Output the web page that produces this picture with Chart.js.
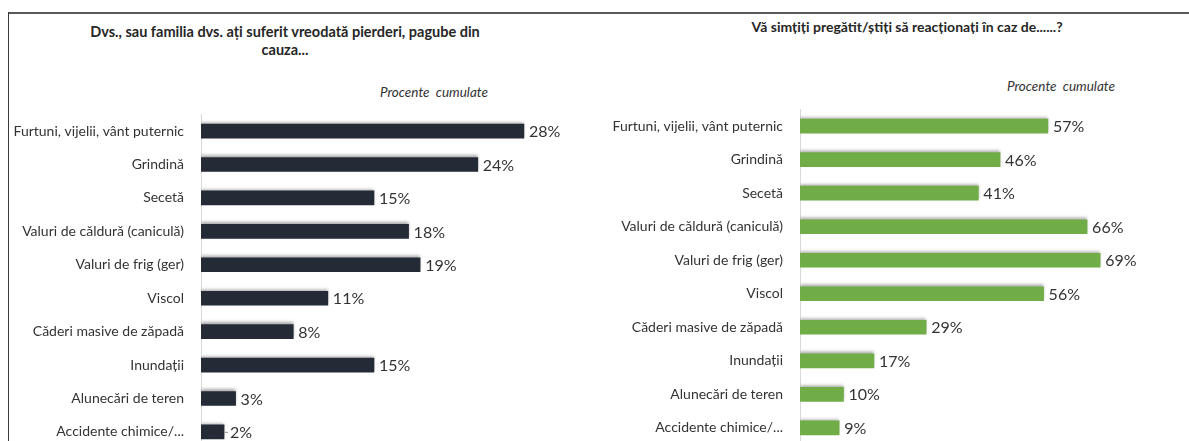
<!DOCTYPE html>
<html>
<head>
<meta charset="utf-8">
<script src="https://cdn.jsdelivr.net/npm/chart.js@4/dist/chart.umd.min.js"></script>
<style>
  html, body { margin:0; padding:0; background:#fff; width:1189px; height:441px; overflow:hidden; }
  body { position:relative; font-family: Lato, "Open Sans", sans-serif; color:#262626; }
  .frame-top { position:absolute; left:8px; right:0; top:12px; height:2px; background:#595959; }
  .frame-left { position:absolute; left:8px; top:12px; bottom:0; width:1px; background:#3a3a3a; }
  .title { position:absolute; font-weight:bold; text-align:center; line-height:18px; white-space:nowrap; }
  .sub { position:absolute; font-style:italic; font-size:13.5px; color:#333; }
  canvas { position:absolute; }
</style>
</head>
<body>
<div class="frame-top"></div>
<div class="frame-left"></div>

<div class="title" style="left:60px; top:23px; width:450px; font-size:14.5px;">Dvs., sau familia dvs. ați suferit vreodată pierderi, pagube din<br>cauza...</div>
<div class="sub" style="left:380px; top:84px;">Procente&nbsp; cumulate</div>

<div class="title" style="left:680px; top:18px; width:454px; font-size:14px;">Vă simțiți pregătit/știți să reacționați în caz de......?</div>
<div class="sub" style="left:1007px; top:78px;">Procente&nbsp; cumulate</div>

<canvas id="chartLoss" width="600" height="369" style="left:0; top:97px;"></canvas>
<canvas id="chartReady" width="589" height="370" style="left:600px; top:92px;"></canvas>

<script>
// categories shared by both charts
const hazards = [
  'Furtuni, vijelii, vânt puternic',
  'Grindină',
  'Secetă',
  'Valuri de căldură (caniculă)',
  'Valuri de frig (ger)',
  'Viscol',
  'Căderi masive de zăpadă',
  'Inundații',
  'Alunecări de teren',
  'Accidente chimice/...'
];
// % who suffered losses
const lossValues = [28, 24, 15, 18, 19, 11, 8, 15, 3, 2];
// % who feel prepared
const readyValues = [57, 46, 41, 66, 69, 56, 29, 17, 10, 9];

const FONT = 'Lato, "Open Sans", sans-serif';

// soft shadow above the bars
const barShadow = {
  id: 'barShadow',
  beforeDatasetsDraw(chart) {
    const ctx = chart.ctx;
    ctx.save();
    ctx.shadowColor = 'rgba(0,0,0,0.35)';
    ctx.shadowBlur = 3;
    ctx.shadowOffsetX = 0;
    ctx.shadowOffsetY = -2;
  },
  afterDatasetsDraw(chart) { chart.ctx.restore(); }
};

// "NN%" after each bar; very short bars get a small leader line
const valueLabels = {
  id: 'valueLabels',
  afterDraw(chart) {
    const ctx = chart.ctx;
    const meta = chart.getDatasetMeta(0);
    const data = chart.data.datasets[0].data;
    ctx.save();
    ctx.font = '16px ' + FONT;
    ctx.fillStyle = '#333';
    ctx.strokeStyle = '#999';
    ctx.lineWidth = 1;
    ctx.textAlign = 'left';
    ctx.textBaseline = 'middle';
    meta.data.forEach((bar, i) => {
      let x = bar.x + 5;
      if (bar.x - bar.base < 25) {
        ctx.beginPath();
        ctx.moveTo(bar.x, bar.y + 0.5);
        ctx.lineTo(bar.x + 4, bar.y + 0.5);
        ctx.stroke();
        x = bar.x + 6;
      }
      ctx.fillText(data[i] + '%', x, bar.y + 1);
    });
    ctx.restore();
  }
};

function makeChart(id, values, color, xMax, axisWidth, padRight) {
  return new Chart(document.getElementById(id), {
    type: 'bar',
    data: {
      labels: hazards,
      datasets: [{ data: values, backgroundColor: color, barThickness: 14, borderWidth: 0 }]
    },
    options: {
      indexAxis: 'y',
      responsive: false,
      animation: false,
      layout: { padding: { top: 13, right: padRight, bottom: 0, left: 0 } },
      plugins: { legend: { display: false }, tooltip: { enabled: false }, title: { display: false } },
      scales: {
        x: { display: false, min: 0, max: xMax },
        y: {
          grid: { display: false },
          border: { display: true, color: '#d9d9d9', width: 1 },
          ticks: { color: '#333', padding: 9, font: { family: FONT, size: 14 } },
          afterFit: s => { s.width = axisWidth; }
        }
      }
    },
    plugins: [barShadow, valueLabels]
  });
}

makeChart('chartLoss', lossValues, '#252b36', 30, 201, 53);
makeChart('chartReady', readyValues, '#70ad47', 80, 200, 41);
</script>
</body>
</html>
